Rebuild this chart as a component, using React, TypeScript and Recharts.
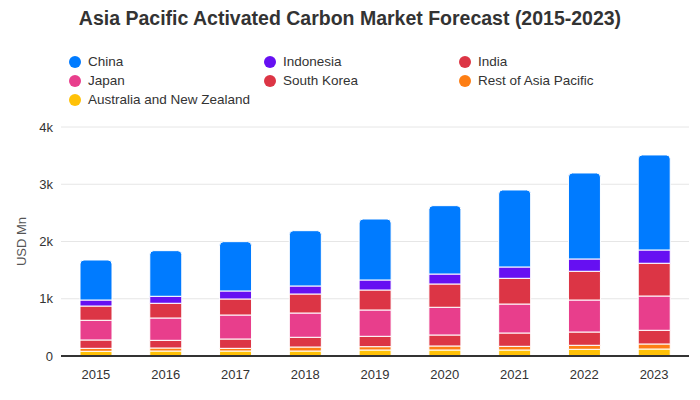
import { Bar, BarChart, CartesianGrid, XAxis, YAxis, Label } from "recharts";

const years = ["2015", "2016", "2017", "2018", "2019", "2020", "2021", "2022", "2023"];

const australia = [82, 87, 87, 87, 105, 105, 105, 117, 122];
const restOfAsia = [52, 53, 47, 70, 58, 70, 64, 70, 88];
const southKorea = [146, 134, 163, 170, 181, 192, 233, 232, 239];
const japan = [344, 390, 419, 424, 460, 484, 506, 559, 599];
const india = [249, 257, 280, 332, 349, 407, 449, 502, 572];
const indonesia = [105, 122, 140, 140, 175, 174, 198, 215, 232];
const china = [699, 797, 861, 966, 1065, 1194, 1345, 1502, 1660];

const yTicks = [0, 1000, 2000, 3000, 4000];

// stacking order, bottom first
const series = [
  { key: "australia", name: "Australia and New Zealand", color: "#ffc107", values: australia },
  { key: "restOfAsia", name: "Rest of Asia Pacific", color: "#fd7e14", values: restOfAsia },
  { key: "southKorea", name: "South Korea", color: "#dc3545", values: southKorea },
  { key: "japan", name: "Japan", color: "#e83e8c", values: japan },
  { key: "india", name: "India", color: "#dc3545", values: india },
  { key: "indonesia", name: "Indonesia", color: "#6610f2", values: indonesia },
  { key: "china", name: "China", color: "#007bff", values: china },
];

const legendOrder = ["china", "indonesia", "india", "japan", "southKorea", "restOfAsia", "australia"];

const data = years.map((year, i) => {
  const row: Record<string, string | number> = { year };
  series.forEach((s) => {
    row[s.key] = s.values[i];
  });
  return row;
});

const font = "'Liberation Sans', Arial, sans-serif";

export default function App() {
  const legendItems = legendOrder.map((k) => series.find((s) => s.key === k)!);
  return (
    <div style={{ position: "absolute", left: 0, top: 0, width: 700, height: 400, fontFamily: font, background: "#fff" }}>
      <div
        style={{
          position: "absolute",
          top: 7,
          left: 0,
          width: 700,
          textAlign: "center",
          fontSize: 19.5,
          fontWeight: "bold",
          color: "#333",
        }}
      >
        Asia Pacific Activated Carbon Market Forecast (2015-2023)
      </div>
      {legendItems.map((s, i) => (
        <div
          key={s.key}
          style={{
            position: "absolute",
            left: 69 + (i % 3) * 195,
            top: 54 + Math.floor(i / 3) * 19,
            display: "flex",
            alignItems: "center",
            fontSize: 13.5,
            color: "#333",
          }}
        >
          <span
            style={{
              display: "inline-block",
              width: 12,
              height: 12,
              borderRadius: 6,
              background: s.color,
              marginRight: 7,
            }}
          />
          {s.name}
        </div>
      ))}
      <BarChart
        width={700}
        height={400}
        data={data}
        margin={{ top: 127, right: 11, bottom: 14, left: 9 }}
        barSize={32}
      >
        <CartesianGrid vertical={false} stroke="#e6e6e6" />
        <XAxis
          dataKey="year"
          tickLine={false}
          axisLine={{ stroke: "#333", strokeWidth: 2 }}
          tick={{ fill: "#333", fontSize: 13, fontFamily: font }}
          tickMargin={8}
        />
        <YAxis
          width={52}
          domain={[0, 4000]}
          ticks={yTicks}
          axisLine={false}
          tickLine={false}
          tick={{ fill: "#333", fontSize: 13, fontFamily: font }}
          tickFormatter={(v: number) => (v === 0 ? "0" : `${v / 1000}k`)}
        >
          <Label
            value="USD Mn"
            angle={-90}
            position="insideLeft"
            offset={12}
            style={{ fill: "#555", fontSize: 13, fontFamily: font, textAnchor: "middle" }}
          />
        </YAxis>
        {series.map((s, i) => (
          <Bar
            key={s.key}
            dataKey={s.key}
            name={s.name}
            stackId="a"
            fill={s.color}
            stroke="#fff"
            strokeWidth={1}
            radius={i === series.length - 1 ? [4, 4, 0, 0] : 0}
            isAnimationActive={false}
          />
        ))}
      </BarChart>
    </div>
  );
}
